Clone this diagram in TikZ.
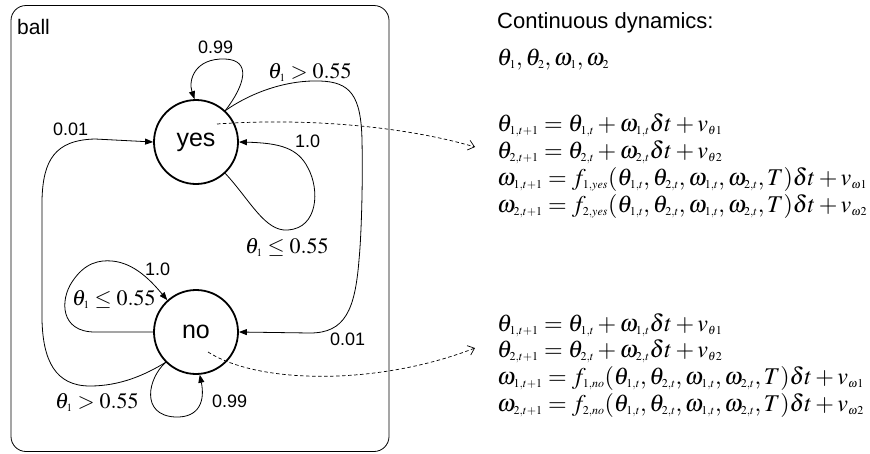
\documentclass[tikz,border=0pt]{standalone}
\usepackage{mathptmx}
\usepackage[no-math]{fontspec}
\setmainfont{Liberation Serif}
\setsansfont{Liberation Sans}
\DeclareMathSizes{24}{24}{12}{9}
\DeclareMathSizes{22}{22}{11}{8}
\usetikzlibrary{arrows.meta}
\begin{document}
\begin{tikzpicture}[x=1pt,y=-1pt,
  state/.style={circle,draw,line width=1.8pt,minimum size=84pt,inner sep=0pt,font=\fontsize{25}{25}\sffamily},
  lab/.style={font=\fontsize{18}{18}\sffamily,inner sep=0pt,anchor=base west},
  mlab/.style={font=\fontsize{22}{22}\selectfont,inner sep=0pt,anchor=base west},
  eqn/.style={font=\fontsize{24}{24}\selectfont,inner sep=0pt,anchor=base west},
  trans/.style={line width=0.8pt,-{Triangle[length=8pt,width=6pt]}},
  dasharrow/.style={line width=0.7pt,dash pattern=on 3.5pt off 2.5pt,-{Straight Barb[length=6pt,width=10pt]}}
]
\useasboundingbox (0,0) rectangle (870,453);
\node[draw,rounded corners=15pt,line width=0.8pt,minimum width=378pt,minimum height=446pt,inner sep=0pt] (box) at (200,228.5) {};
\node[lab,font=\fontsize{21}{21}\sffamily] (ball) at (17,34) {ball};

\node[state] (yes) at (196,142) {yes};
\node[state] (no) at (196,332) {no};

% yes self loop 0.99
\draw[trans] (yes.47) .. controls (245,85) and (252,60) .. (225,59) .. controls (195,58) and (188,80) .. (yes.92);
\node[lab] (l099a) at (198,53) {0.99};
% yes -> no, theta > 0.55
\draw[trans] (yes.47) .. controls (255,90) and (290,80) .. (320,81) .. controls (350,82) and (361,95) .. (362,140)
  .. controls (363,190) and (361,240) .. (359,260) .. controls (355,310) and (345,333) .. (310,333) -- (no.east);
\node[mlab] (lgt1) at (268,78) {$\theta_1 > 0.55$};
\node[lab] (l001b) at (330,345) {0.01};
% yes self loop 1.0
\draw[trans] (yes.-47) .. controls (250,200) and (265,232) .. (288,230) .. controls (318,228) and (320,190) .. (308,168) .. controls (298,148) and (280,143) .. (yes.east);
\node[lab] (l10a) at (295,147) {1.0};
\node[mlab] (lle1) at (245,253) {$\theta_1 \leq 0.55$};
% no -> yes, theta > 0.55, 0.01
\draw[trans] (no.-135) .. controls (145,375) and (120,386) .. (90,386) .. controls (55,386) and (43,360) .. (42,320)
  -- (42,200) .. controls (43,160) and (55,140) .. (95,139) -- (yes.west);
\node[lab] (l001a) at (53,135) {0.01};
\node[mlab] (lgt2) at (55,408) {$\theta_1 > 0.55$};
% no self loop 0.99
\draw[trans] (no.-135) .. controls (148,378) and (140,415) .. (175,417) .. controls (200,418) and (205,400) .. (no.-85);
\node[lab] (l099b) at (212,407) {0.99};
% no self loop 1.0
\draw[trans] (no.west) -- (95,332) .. controls (60,332) and (60,300) .. (72,282) .. controls (85,262) and (100,260) .. (112,261) .. controls (135,263) and (152,282) .. (no.132);
\node[lab] (l10b) at (145,275) {1.0};
\node[mlab] (lle2) at (72,305) {$\theta_1 \leq 0.55$};

% dashed arrows
\coordinate (ys) at (217,124);
\coordinate (ye) at (475,147);
\coordinate (ns) at (208,352);
\coordinate (ne) at (475,348);
\draw[dasharrow] (ys) .. controls (300,118) and (400,125) .. (ye);
\draw[dasharrow] (ns) .. controls (260,385) and (380,385) .. (ne);

% equations
\node[lab,font=\fontsize{22}{22}\sffamily] (cont) at (497,28) {Continuous dynamics:};
\node[eqn] (vars) at (497,65) {$\theta_1,\theta_2,\omega_1,\omega_2$};
\node[eqn] (ya) at (497,131) {$\theta_{1,t+1} = \theta_{1,t} + \omega_{1,t}\delta t + v_{\theta 1}$};
\node[eqn] (yb) at (497,158) {$\theta_{2,t+1} = \theta_{2,t} + \omega_{2,t}\delta t + v_{\theta 2}$};
\node[eqn] (yc) at (497,185) {$\omega_{1,t+1} = f_{1,yes}(\theta_{1,t},\theta_{2,t},\omega_{1,t},\omega_{2,t},T)\delta t + v_{\omega 1}$};
\node[eqn] (yd) at (497,212) {$\omega_{2,t+1} = f_{2,yes}(\theta_{1,t},\theta_{2,t},\omega_{1,t},\omega_{2,t},T)\delta t + v_{\omega 2}$};
\node[eqn] (na) at (497,331) {$\theta_{1,t+1} = \theta_{1,t} + \omega_{1,t}\delta t + v_{\theta 1}$};
\node[eqn] (nb) at (497,357) {$\theta_{2,t+1} = \theta_{2,t} + \omega_{2,t}\delta t + v_{\theta 2}$};
\node[eqn] (nc) at (497,384) {$\omega_{1,t+1} = f_{1,no}(\theta_{1,t},\theta_{2,t},\omega_{1,t},\omega_{2,t},T)\delta t + v_{\omega 1}$};
\node[eqn] (nd) at (497,411) {$\omega_{2,t+1} = f_{2,no}(\theta_{1,t},\theta_{2,t},\omega_{1,t},\omega_{2,t},T)\delta t + v_{\omega 2}$};
\end{tikzpicture}
\end{document}
